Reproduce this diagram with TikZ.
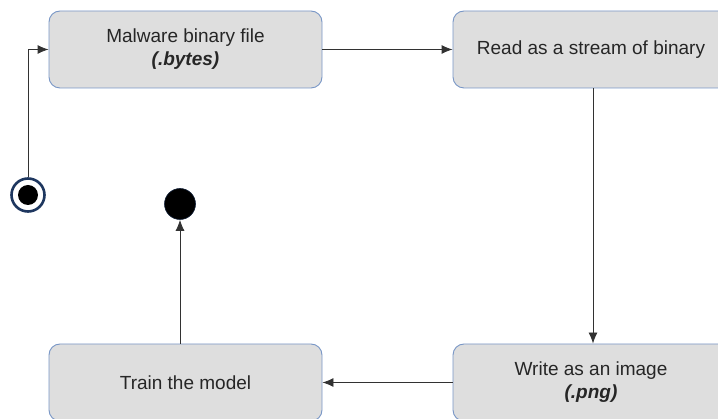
\documentclass[tikz,border=0pt]{standalone}
\usepackage{fontspec}
\setmainfont{Liberation Sans}
\usetikzlibrary{arrows.meta}
\definecolor{boxfill}{RGB}{222,222,222}
\definecolor{boxline}{RGB}{120,150,198}
\definecolor{ringblue}{RGB}{30,55,95}
\definecolor{conn}{RGB}{50,50,50}
\begin{document}
\begin{tikzpicture}[x=1pt,y=-1pt,
  statebox/.style={draw=boxline, fill=boxfill, line width=0.9pt, rounded corners=11pt,
    minimum height=77pt, align=center, inner sep=0pt,
    font=\fontsize{19pt}{23pt}\selectfont, text=black!85},
  conn/.style={draw=conn, line width=0.9pt, -{Latex[length=11pt,width=9pt]}}]
\useasboundingbox (0,0) rectangle (718,419);
\node[statebox, minimum width=273pt] (malware) at (185.5,49.5) {Malware binary file\\\textbf{\textit{(.bytes)}}};
\node[statebox, minimum width=276pt] (read) at (591,49.5) {Read as a stream of binary};
\node[statebox, minimum width=276pt] (write) at (591,382.5) {Write as an image\\\textbf{\textit{(.png)}}};
\node[statebox, minimum width=273pt] (train) at (185.5,382.5) {Train the model};
% start node
\node[circle, draw=ringblue, fill=white, line width=2.6pt, minimum size=33pt, inner sep=0pt] (start) at (28,195) {};
\fill[black] (start.center) circle (10pt);
% final node
\node[circle, draw=ringblue!60!black, fill=black, line width=0.6pt, minimum size=31pt, inner sep=0pt] (final) at (180,204) {};
\coordinate (tstart) at (180,344);
\draw[conn] (start.north) |- (malware.west);
\draw[conn] (malware.east) -- (read.west);
\draw[conn] ([xshift=2pt]read.south) -- ([xshift=2pt]write.north);
\draw[conn] (write.west) -- (train.east);
\draw[conn] (tstart) -- (final.south);
\end{tikzpicture}
\end{document}
